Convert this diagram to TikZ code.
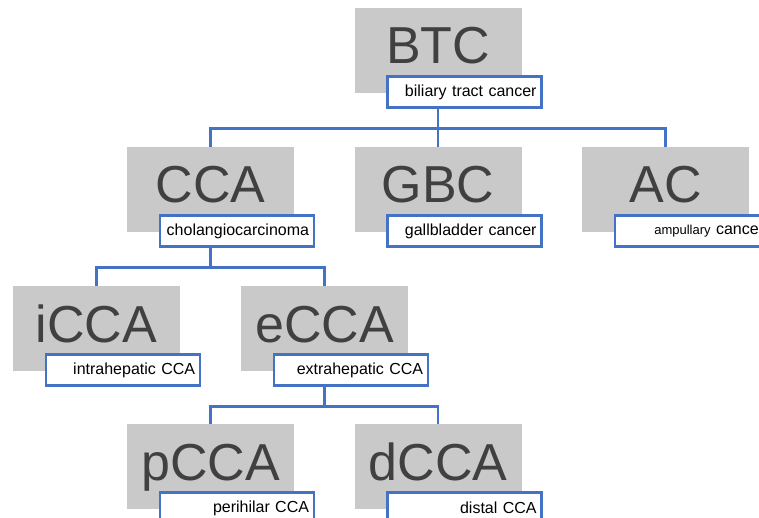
\documentclass[tikz,border=0pt]{standalone}
\usepackage{fontspec}
\setmainfont{Liberation Sans}

\definecolor{BoxGray}{HTML}{C9C9C9}
\definecolor{LinkBlue}{HTML}{4472C4}
\definecolor{BigText}{HTML}{404040}

\tikzset{
  abbr/.style={fill=BoxGray, minimum width=167pt, minimum height=85pt, inner sep=0pt,
    text height=37pt, text depth=10pt, text=BigText, font=\fontsize{52}{60}\selectfont},
  fullname/.style={draw=LinkBlue, line width=2.5pt, fill=white, anchor=north west,
    minimum height=31pt, inner xsep=5pt, inner ysep=0pt, text width=144pt, align=right,
    font=\fontsize{16}{19}\selectfont},
  link/.style={draw=LinkBlue, line width=2.5pt}
}

\begin{document}
\begin{tikzpicture}[x=1pt, y=1pt]

 \useasboundingbox (0,0) rectangle (759,517);

  %%%%%%%%%% Grey boxes %%%%%%%%%%
 \node[abbr] (btc) at (438,466.5) {BTC};
 \node[abbr] (cca) at (210.5,327.5) {CCA};
 \node[abbr] (gbc) at (438,327.5) {GBC};
 \node[abbr] (ac) at (665.5,327.5) {AC};
 \node[abbr] (icca) at (96.5,188.5) {iCCA};
 \node[abbr] (ecca) at (324.5,188.5) {eCCA};
 \node[abbr] (pcca) at (210.5,50.5) {pCCA};
 \node[abbr] (dcca) at (438,50.5) {dCCA};

  %%%%%%%%%% Full names %%%%%%%%%%
 \node[fullname] (btcl) at ([shift={(32,18)}]btc.south west) {biliary tract cancer};
 \node[fullname] (ccal) at ([shift={(32,18)}]cca.south west) {cholangiocarcinoma};
 \node[fullname] (gbcl) at ([shift={(32,18)}]gbc.south west) {gallbladder cancer};
 \node[fullname] (acl) at ([shift={(32,18)}]ac.south west) {{\fontsize{13}{15}\selectfont ampullary} cancer};
 \node[fullname] (iccal) at ([shift={(32,18)}]icca.south west) {intrahepatic CCA};
 \node[fullname] (eccal) at ([shift={(32,18)}]ecca.south west) {extrahepatic CCA};
 \node[fullname] (pccal) at ([shift={(32,18)}]pcca.south west) {perihilar CCA};
 \node[fullname] (dccal) at ([shift={(32,18)}]dcca.south west) {distal CCA};

  %%%%%%%%%% Links %%%%%%%%%%
 % BTC
 \draw[link] (btc |- btcl.south) -- ++(0,-20) -| (cca.north);
 \draw[link] (btc |- btcl.south) -- (gbc.north);
 \draw[link] (btc |- btcl.south) -- ++(0,-20) -| (ac.north);

 % CCA
 \draw[link] (cca |- ccal.south) -- ++(0,-20) -| (icca.north);
 \draw[link] (cca |- ccal.south) -- ++(0,-20) -| (ecca.north);

 % eCCA
 \draw[link] (ecca |- eccal.south) -- ++(0,-20) -| (pcca.north);
 \draw[link] (ecca |- eccal.south) -- ++(0,-20) -| (dcca.north);

\end{tikzpicture}
\end{document}
